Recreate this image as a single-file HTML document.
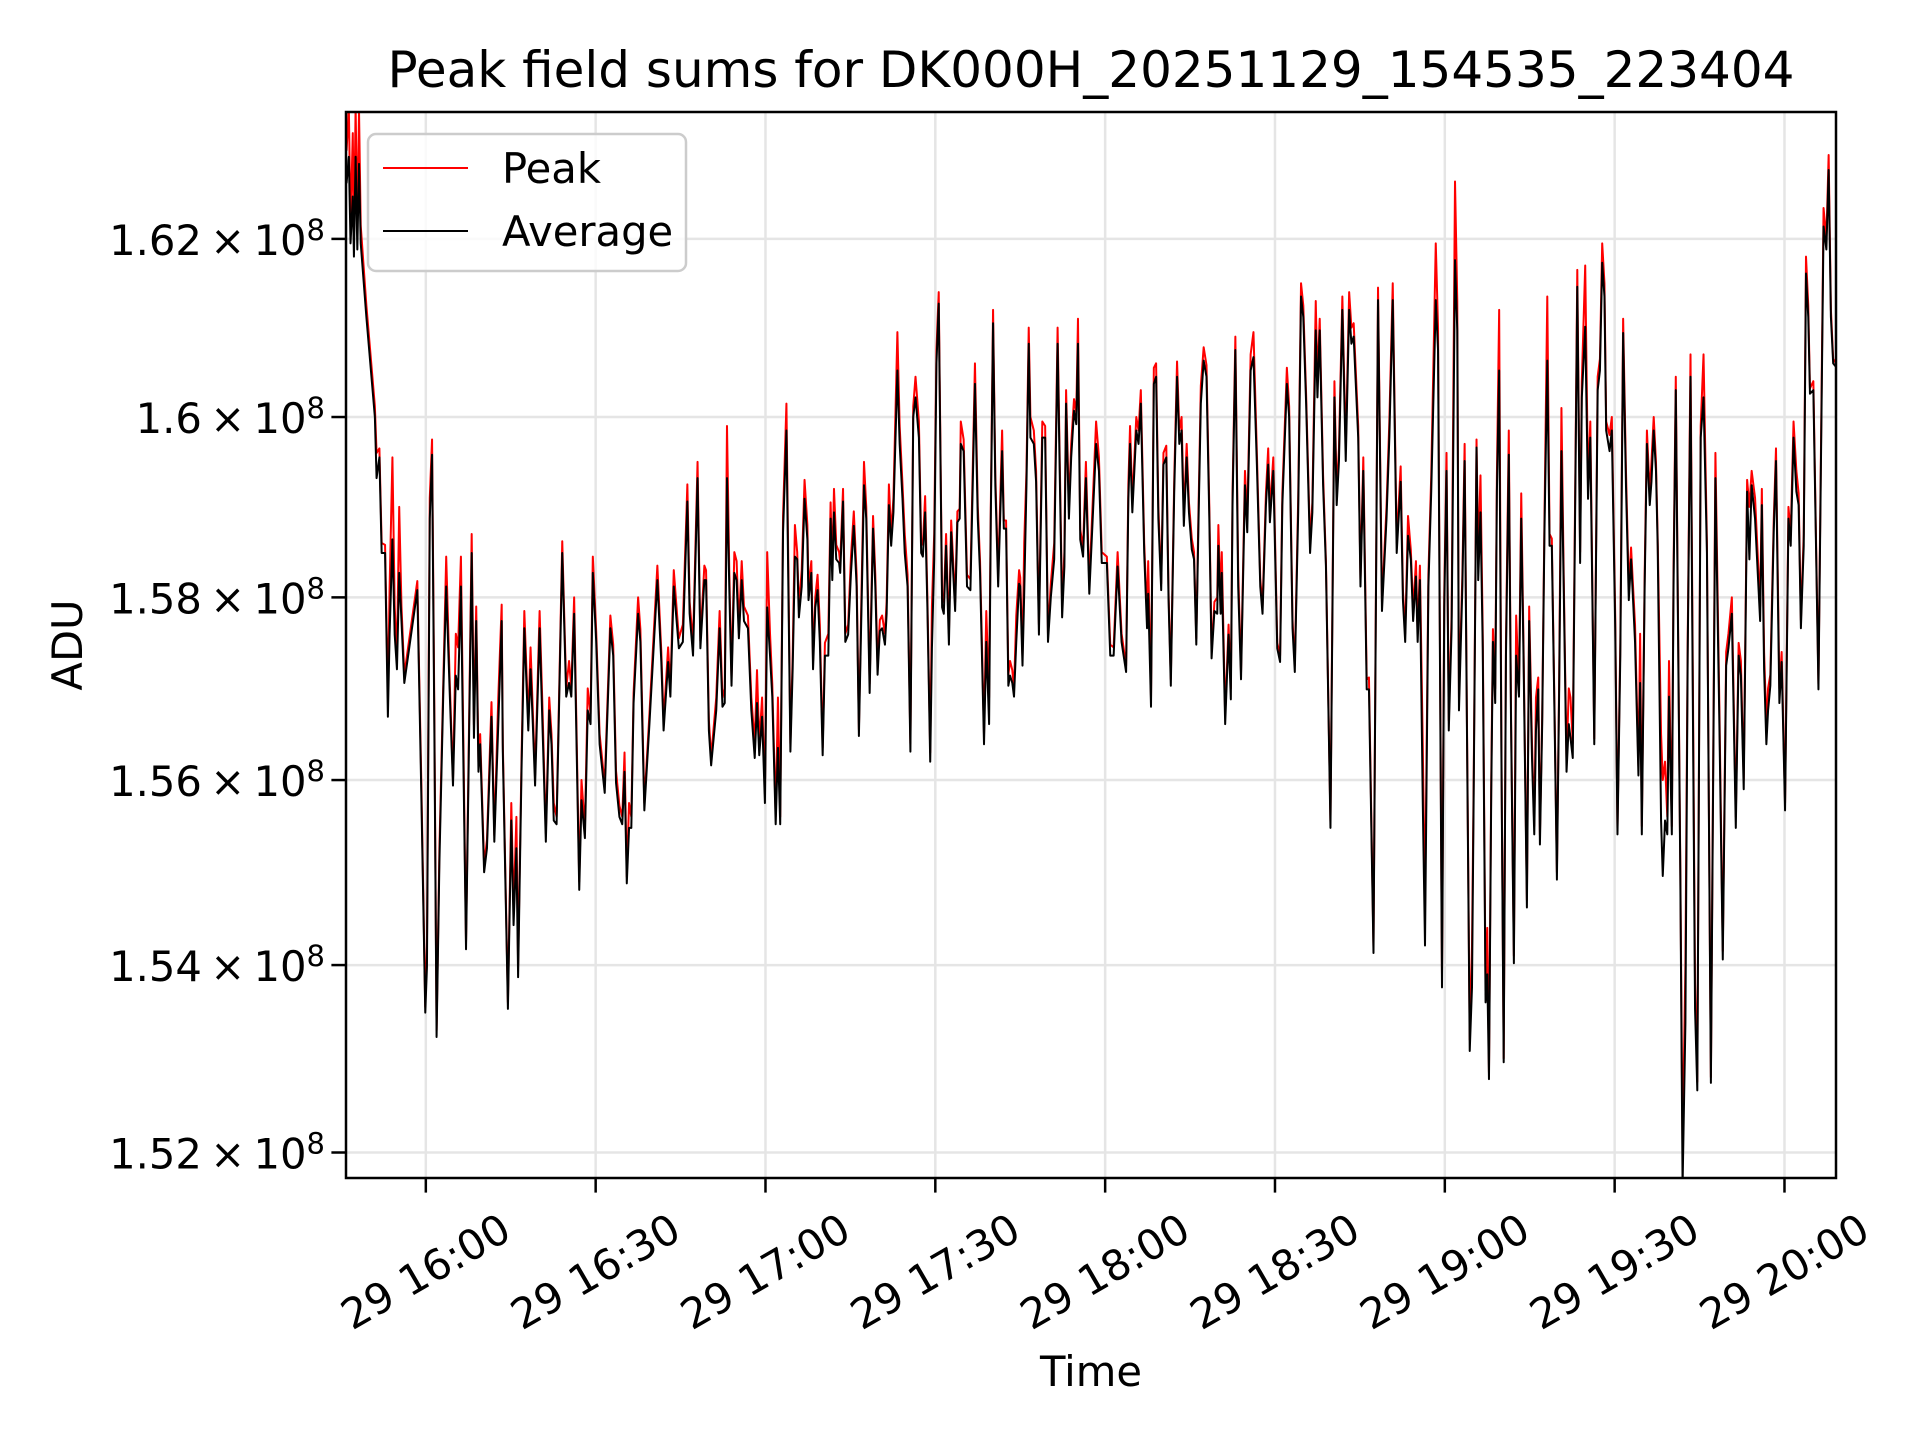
<!DOCTYPE html>
<html>
<head>
<meta charset="utf-8">
<style>
  html,body{margin:0;padding:0;background:#fff;}
  svg{display:block;}
  text{font-family:"DejaVu Sans","Liberation Sans",sans-serif;fill:#000;}
</style>
</head>
<body>
<svg id="chart" width="1920" height="1440" viewBox="0 0 1920 1440" xmlns="http://www.w3.org/2000/svg">
  <rect x="0" y="0" width="1920" height="1440" fill="#fff"/>
  <defs>
    <clipPath id="plotclip"><rect x="346" y="112" width="1490" height="1066"/></clipPath>
  </defs>
  <g id="grid"></g>
  <g id="series" clip-path="url(#plotclip)"></g>
  <rect x="346" y="112" width="1490" height="1066" fill="none" stroke="#000" stroke-width="2.5"/>
  <g id="axes"></g>
  <text x="1091" y="87" font-size="50" text-anchor="middle">Peak field sums for DK000H_20251129_154535_223404</text>
  <text x="1091" y="1386" font-size="41.7" text-anchor="middle">Time</text>
  <text x="82" y="645" font-size="41.7" text-anchor="middle" transform="rotate(-90 82 645)">ADU</text>
  <g>
    <rect x="368" y="134" width="318" height="137" rx="8" fill="#fff" fill-opacity="0.8" stroke="#cccccc" stroke-width="2.5"/>
    <line x1="383" y1="168" x2="468" y2="168" stroke="#ff0000" stroke-width="2"/>
    <text x="502" y="183" font-size="41.7">Peak</text>
    <line x1="383" y1="231" x2="468" y2="231" stroke="#000" stroke-width="2"/>
    <text x="502" y="246" font-size="41.7">Average</text>
  </g>
</svg>
<script>
// minutes after 29 16:00
const times = [
-14.0,-13.6,-13.3,-12.9,-12.7,-12.4,-12.1,-11.8,-11.5,-10.5,-9.0,-8.7,-8.2,-7.8,-7.2,-6.7,-6.4,-5.9,-5.5,-5.1,-4.7,-4.3,-3.8,-1.5,-0.8,-0.1,0.2,0.7,1.1,1.5,1.9,2.4,3.1,3.6,4.2,4.8,5.3,5.7,6.2,7.1,7.5,8.1,8.5,8.9,9.3,9.6,10.3,10.8,11.6,12.1,12.8,13.4,13.6,14.5,15.1,15.5,16.0,16.3,16.9,17.4,18.1,18.5,18.9,19.3,20.1,20.6,21.2,21.8,22.2,22.6,23.1,24.1,24.8,25.3,25.7,26.2,27.1,27.5,28.1,28.6,29.1,29.5,30.1,30.7,31.6,32.6,33.1,33.6,34.2,34.7,35.1,35.5,35.9,36.3,36.7,37.5,37.9,38.6,39.5,40.9,41.6,42.0,42.8,43.2,43.8,44.7,45.4,46.2,46.6,47.2,48.0,48.5,49.2,49.5,50.0,50.4,51.3,51.9,
52.4,52.8,53.2,53.6,54.0,54.5,54.9,55.3,55.8,56.2,56.9,57.5,58.1,58.5,58.9,59.4,59.9,60.3,60.8,61.2,61.8,62.2,62.6,63.1,63.7,64.4,64.8,65.2,65.6,65.9,66.4,66.9,67.4,67.6,68.1,68.4,68.8,69.2,69.6,70.1,70.5,71.1,71.5,71.8,72.1,72.5,73.0,73.2,73.7,74.1,74.6,75.1,75.6,76.1,76.5,77.4,77.8,78.4,79.0,79.4,79.8,80.2,80.6,81.1,81.4,81.8,82.2,82.6,83.3,83.7,84.2,84.6,85.1,85.6,86.1,86.5,87.1,87.5,87.8,88.2,88.6,89.1,89.4,89.8,90.2,90.6,91.2,91.5,91.9,92.4,92.8,93.5,93.9,94.3,94.5,95.0,95.6,96.2,97.0,97.5,97.9,98.6,99.0,99.5,99.8,100.2,100.6,101.1,101.8,102.1,102.5,102.9,103.2,103.6,103.9,104.3,104.8,105.0,105.4,105.7,106.1,106.5,106.8,107.4,107.8,108.3,108.9,109.4,109.9,110.4,111.0,111.6,112.4,112.8,113.1,113.6,114.0,114.5,114.9,115.2,115.6,116.1,116.6,117.2,
118.4,118.9,119.4,120.3,120.9,121.5,122.2,122.9,123.7,124.1,124.4,124.8,125.5,125.9,126.3,126.9,127.4,127.6,128.1,128.6,129.0,129.4,129.9,130.3,130.8,131.2,131.6,132.2,132.7,133.1,133.5,133.9,134.4,134.8,135.3,135.7,136.1,136.5,136.9,137.4,137.9,138.4,138.8,139.3,139.8,140.0,140.4,140.6,141.2,141.8,142.2,142.5,143.0,143.5,144.0,144.7,145.1,145.7,146.2,146.8,147.4,147.8,148.4,148.8,149.1,149.7,150.4,150.9,151.3,152.1,152.5,153.1,153.5,154.1,154.6,155.0,155.5,156.2,156.6,157.2,157.5,157.9,158.5,159.0,159.8,160.5,160.9,161.3,161.9,162.5,163.1,163.5,163.9,164.7,165.1,165.6,166.2,166.6,167.4,168.2,168.9,169.7,170.2,170.8,171.5,172.2,172.6,173.0,173.5,174.0,174.4,174.9,175.2,175.6,176.1,176.5,177.1,177.6,178.4,178.8,179.5,179.9,180.3,180.7,181.2,181.8,182.2,182.5,
183.1,183.5,183.9,184.4,184.8,185.1,185.6,185.9,186.3,186.7,187.2,187.5,187.8,188.2,188.5,188.9,189.2,189.6,190.0,190.4,190.8,191.3,191.7,192.2,192.6,193.1,193.5,193.9,194.5,194.9,195.4,195.8,196.1,196.5,196.8,197.2,197.6,198.1,198.5,198.9,199.4,199.8,200.2,200.6,201.0,201.5,201.9,202.2,202.6,203.4,203.9,204.2,204.8,205.3,205.7,206.4,207.0,207.4,207.8,208.2,208.5,209.1,209.5,210.1,210.5,211.0,211.5,212.0,212.5,212.9,213.2,213.6,214.2,214.5,214.8,215.3,215.7,216.2,216.5,216.9,217.3,217.6,218.2,218.5,218.9,219.3,219.6,220.1,220.4,220.8,221.6,222.0,222.5,222.9,223.4,224.2,224.6,225.2,225.7,226.3,227.0,227.8,228.5,229.1,229.7,230.1,230.7,231.4,231.9,232.3,232.8,233.4,233.8,234.2,234.8,235.7,236.0,236.4,236.8,237.1,237.5,238.1,238.5,239.1,239.5,240.1,240.7,241.1,241.6,242.1,242.5,242.9,243.4,243.8,244.2,244.5,245.1,246.0,246.9,247.4,247.8,248.2,248.6,249.1
];
// Average ADU, units of 1e8
const averageValues = [
1.6263,1.6293,1.6195,1.6248,1.6180,1.6293,1.6188,1.6285,1.6195,1.6112,1.6000,1.5932,1.5955,1.5849,1.5849,1.5669,1.5759,1.5864,1.5759,1.5721,1.5827,1.5774,1.5706,1.5808,1.5586,1.5349,1.5398,1.5887,1.5958,1.5661,1.5323,1.5511,1.5699,1.5812,1.5699,1.5594,1.5714,1.5699,1.5812,1.5417,1.5586,1.5849,1.5646,1.5774,1.5609,1.5639,1.5500,1.5526,1.5669,1.5533,1.5661,1.5774,1.5631,1.5353,1.5556,1.5443,1.5526,1.5387,1.5609,1.5766,1.5654,1.5721,1.5661,1.5594,1.5766,1.5661,1.5533,1.5676,1.5639,1.5556,1.5552,1.5849,1.5691,1.5706,1.5691,1.5782,1.5481,1.5578,1.5537,1.5676,1.5661,1.5827,1.5751,1.5639,1.5586,1.5766,1.5736,1.5597,1.5560,1.5552,1.5609,1.5488,1.5548,1.5548,1.5684,1.5782,1.5751,1.5567,1.5661,1.5819,1.5729,1.5654,1.5729,1.5691,1.5812,1.5744,1.5751,1.5906,1.5782,1.5736,1.5932,1.5744,1.5819,1.5819,1.5654,1.5616,1.5676,1.5766,
1.5680,1.5684,1.5932,1.5812,1.5703,1.5827,1.5819,1.5755,1.5819,1.5774,1.5766,1.5676,1.5624,1.5684,1.5627,1.5669,1.5575,1.5789,1.5736,1.5691,1.5552,1.5635,1.5552,1.5872,1.5985,1.5631,1.5721,1.5845,1.5842,1.5778,1.5812,1.5909,1.5864,1.5797,1.5827,1.5721,1.5789,1.5808,1.5751,1.5627,1.5736,1.5736,1.5887,1.5819,1.5894,1.5842,1.5838,1.5827,1.5906,1.5751,1.5759,1.5827,1.5879,1.5812,1.5648,1.5924,1.5887,1.5695,1.5876,1.5812,1.5715,1.5763,1.5766,1.5748,1.5782,1.5902,1.5857,1.5894,1.6052,1.5970,1.5909,1.5849,1.5812,1.5631,1.6000,1.6022,1.5977,1.5849,1.5845,1.5894,1.5789,1.5620,1.5744,1.5842,1.6060,1.6127,1.5789,1.5782,1.5857,1.5748,1.5872,1.5785,1.5883,1.5887,1.5970,1.5962,1.5812,1.5808,1.6037,1.5887,1.5827,1.5639,1.5751,1.5661,1.5887,1.6105,1.5924,1.5812,1.5962,1.5876,1.5876,1.5703,1.5714,1.5706,1.5691,1.5751,1.5815,1.5812,1.5725,1.5804,1.5924,1.6082,1.5977,1.5970,1.5928,1.5759,1.5977,1.5977,1.5751,1.5800,1.5842,1.6082,1.5778,1.5834,1.6015,1.5887,1.5955,1.6007,1.5992,1.6082,1.5864,1.5845,1.5932,1.5804,
1.5970,1.5940,1.5838,1.5838,1.5736,1.5736,1.5834,1.5751,1.5718,1.5909,1.5970,1.5894,1.5985,1.5970,1.6015,1.5849,1.5766,1.5804,1.5680,1.6037,1.6045,1.5887,1.5808,1.5947,1.5955,1.5797,1.5703,1.5917,1.6045,1.5970,1.5985,1.5879,1.5955,1.5894,1.5853,1.5842,1.5748,1.5887,1.6015,1.6063,1.6045,1.5887,1.5733,1.5785,1.5782,1.5857,1.5782,1.5827,1.5661,1.5759,1.5688,1.5902,1.6075,1.5812,1.5710,1.5924,1.5872,1.6052,1.6067,1.5947,1.5812,1.5782,1.5902,1.5947,1.5883,1.5940,1.5744,1.5729,1.5902,1.6037,1.6000,1.5766,1.5718,1.5894,1.6135,1.6112,1.6015,1.5849,1.5894,1.6097,1.6022,1.6097,1.5924,1.5834,1.5548,1.6022,1.5902,1.5951,1.6120,1.5951,1.6120,1.6082,1.6090,1.5977,1.5812,1.5940,1.5699,1.5699,1.5413,1.6131,1.5785,1.5887,1.5977,1.6131,1.5849,1.5928,1.5797,1.5751,1.5868,1.5842,1.5774,1.5823,1.5751,1.5819,1.5578,1.5421,1.5812,1.5917,1.6131,1.6075,1.5376,1.5789,1.5940,1.5654,1.5766,1.6176,1.6097,1.5676,
1.5812,1.5951,1.5661,1.5308,1.5376,1.5586,1.5966,1.5819,1.5894,1.5744,1.5360,1.5390,1.5278,1.5586,1.5751,1.5684,1.5917,1.6052,1.5624,1.5296,1.5736,1.5958,1.5661,1.5402,1.5736,1.5691,1.5887,1.5736,1.5462,1.5774,1.5624,1.5541,1.5654,1.5699,1.5530,1.5661,1.5872,1.6063,1.5857,1.5857,1.5661,1.5492,1.5699,1.5962,1.5812,1.5609,1.5661,1.5646,1.5624,1.6146,1.5838,1.6022,1.6101,1.5909,1.5977,1.5639,1.6030,1.6052,1.6173,1.6135,1.5985,1.5962,1.5985,1.5766,1.5541,1.5736,1.6094,1.5924,1.5797,1.5842,1.5804,1.5751,1.5605,1.5706,1.5541,1.5812,1.5970,1.5902,1.5928,1.5985,1.5940,1.5857,1.5556,1.5496,1.5556,1.5541,1.5691,1.5541,1.5812,1.6030,1.5496,1.5165,1.5338,1.5736,1.6045,1.5353,1.5266,1.5977,1.6022,1.5849,1.5274,1.5932,1.5661,1.5406,1.5725,1.5744,1.5782,1.5548,1.5736,1.5714,1.5590,1.5917,1.5842,1.5924,1.5887,1.5774,1.5902,1.5721,1.5639,1.5676,1.5703,1.5872,1.5951,1.5684,1.5729,1.5567,1.5887,1.5857,1.5977,1.5917,1.5902,1.5766,1.5857,1.6161,1.6112,1.6026,1.6030,1.5699,1.6214,1.6188,1.6278,1.6112,1.6060,1.6056
];
// Peak ADU, units of 1e8
const peakValues = [
1.6300,1.6350,1.6215,1.6320,1.6200,1.6350,1.6210,1.6345,1.6215,1.6125,1.6012,1.5960,1.5965,1.5860,1.5858,1.5690,1.5810,1.5955,1.5790,1.5735,1.5900,1.5790,1.5715,1.5818,1.5600,1.5355,1.5420,1.5910,1.5975,1.5680,1.5330,1.5525,1.5710,1.5845,1.5712,1.5600,1.5760,1.5745,1.5845,1.5425,1.5600,1.5870,1.5660,1.5790,1.5620,1.5650,1.5508,1.5535,1.5685,1.5540,1.5690,1.5792,1.5640,1.5360,1.5575,1.5460,1.5560,1.5400,1.5620,1.5785,1.5665,1.5745,1.5675,1.5605,1.5785,1.5680,1.5542,1.5690,1.5650,1.5575,1.5560,1.5862,1.5700,1.5730,1.5700,1.5800,1.5490,1.5600,1.5548,1.5700,1.5672,1.5845,1.5762,1.5650,1.5595,1.5780,1.5748,1.5610,1.5572,1.5560,1.5630,1.5495,1.5575,1.5560,1.5695,1.5800,1.5765,1.5575,1.5672,1.5835,1.5740,1.5665,1.5745,1.5700,1.5830,1.5755,1.5770,1.5925,1.5795,1.5750,1.5950,1.5752,1.5835,1.5830,1.5665,1.5625,1.5690,1.5785,
1.5690,1.5700,1.5990,1.5830,1.5712,1.5850,1.5840,1.5768,1.5840,1.5790,1.5780,1.5690,1.5640,1.5720,1.5640,1.5690,1.5585,1.5850,1.5760,1.5705,1.5560,1.5690,1.5560,1.5890,1.6015,1.5640,1.5735,1.5880,1.5850,1.5790,1.5830,1.5930,1.5880,1.5810,1.5840,1.5730,1.5800,1.5825,1.5770,1.5635,1.5750,1.5760,1.5905,1.5830,1.5920,1.5858,1.5850,1.5838,1.5920,1.5760,1.5770,1.5845,1.5895,1.5825,1.5655,1.5950,1.5900,1.5705,1.5890,1.5825,1.5725,1.5775,1.5780,1.5760,1.5795,1.5925,1.5870,1.5910,1.6095,1.5990,1.5925,1.5870,1.5825,1.5640,1.6012,1.6045,1.5995,1.5860,1.5858,1.5912,1.5800,1.5630,1.5790,1.5870,1.6075,1.6140,1.5800,1.5795,1.5870,1.5760,1.5885,1.5795,1.5895,1.5898,1.5995,1.5975,1.5825,1.5820,1.6060,1.5900,1.5840,1.5650,1.5785,1.5690,1.5900,1.6120,1.5935,1.5825,1.5985,1.5885,1.5885,1.5715,1.5730,1.5720,1.5700,1.5780,1.5830,1.5822,1.5735,1.5860,1.5940,1.6100,1.6000,1.5985,1.5940,1.5770,1.5995,1.5990,1.5760,1.5815,1.5860,1.6100,1.5790,1.5850,1.6030,1.5900,1.5970,1.6020,1.6005,1.6110,1.5875,1.5855,1.5950,1.5815,
1.5995,1.5955,1.5850,1.5845,1.5748,1.5745,1.5850,1.5760,1.5725,1.5925,1.5990,1.5905,1.6000,1.5985,1.6030,1.5860,1.5780,1.5840,1.5690,1.6055,1.6060,1.5900,1.5815,1.5960,1.5968,1.5805,1.5710,1.5930,1.6062,1.5985,1.6000,1.5890,1.5970,1.5905,1.5865,1.5850,1.5755,1.5900,1.6035,1.6078,1.6058,1.5900,1.5740,1.5795,1.5800,1.5880,1.5795,1.5850,1.5670,1.5770,1.5700,1.5915,1.6090,1.5830,1.5718,1.5940,1.5885,1.6070,1.6095,1.5960,1.5820,1.5790,1.5915,1.5965,1.5895,1.5955,1.5750,1.5736,1.5915,1.6055,1.6012,1.5775,1.5725,1.5910,1.6150,1.6125,1.6025,1.5860,1.5905,1.6130,1.6040,1.6110,1.5935,1.5840,1.5555,1.6040,1.5915,1.5965,1.6135,1.5965,1.6140,1.6100,1.6105,1.5990,1.5820,1.5955,1.5710,1.5712,1.5420,1.6145,1.5795,1.5900,1.5995,1.6150,1.5860,1.5945,1.5808,1.5760,1.5890,1.5852,1.5785,1.5840,1.5760,1.5835,1.5640,1.5460,1.5825,1.5935,1.6195,1.6100,1.5390,1.5805,1.5960,1.5665,1.5780,1.6265,1.6130,1.5690,
1.5825,1.5970,1.5670,1.5320,1.5420,1.5600,1.5975,1.5840,1.5935,1.5760,1.5375,1.5440,1.5285,1.5600,1.5765,1.5700,1.5935,1.6120,1.5635,1.5300,1.5750,1.5985,1.5670,1.5410,1.5780,1.5700,1.5915,1.5748,1.5470,1.5790,1.5640,1.5550,1.5690,1.5712,1.5540,1.5670,1.5885,1.6135,1.5870,1.5865,1.5670,1.5500,1.5710,1.6010,1.5825,1.5620,1.5700,1.5690,1.5640,1.6165,1.5850,1.6040,1.6170,1.5925,1.5995,1.5645,1.6045,1.6065,1.6195,1.6150,1.5995,1.5980,1.6000,1.5780,1.5548,1.5750,1.6110,1.5940,1.5810,1.5855,1.5818,1.5770,1.5615,1.5760,1.5550,1.5825,1.5985,1.5915,1.5950,1.6000,1.5950,1.5865,1.5650,1.5600,1.5620,1.5560,1.5730,1.5550,1.5830,1.6045,1.5505,1.5200,1.5400,1.5750,1.6070,1.5380,1.5275,1.5990,1.6070,1.5860,1.5280,1.5960,1.5680,1.5415,1.5740,1.5760,1.5800,1.5560,1.5750,1.5730,1.5600,1.5930,1.5900,1.5940,1.5910,1.5790,1.5920,1.5740,1.5660,1.5700,1.5715,1.5885,1.5965,1.5700,1.5740,1.5575,1.5900,1.5870,1.5995,1.5940,1.5915,1.5775,1.5870,1.6180,1.6125,1.6032,1.6040,1.5705,1.6235,1.6200,1.6295,1.6120,1.6065,1.6060
];
const xTickMinutes = [0,30,60,90,120,150,180,210,240];
const xTickLabels = ["29 16:00","29 16:30","29 17:00","29 17:30","29 18:00","29 18:30","29 19:00","29 19:30","29 20:00"];
const yTickValues = [1.52,1.54,1.56,1.58,1.60,1.62];
const yTickLabels = ["1.52","1.54","1.56","1.58","1.6","1.62"];

const NS = "http://www.w3.org/2000/svg";
const PL = 346, PR = 1836, PT = 112, PB = 1178;
const X0 = -14.1, X1 = 249.1;
const Y0 = 1.5173, Y1 = 1.6344;
function xScale(t){ return PL + (t - X0) / (X1 - X0) * (PR - PL); }
function yScale(v){ return PB - (Math.log10(v) - Math.log10(Y0)) / (Math.log10(Y1) - Math.log10(Y0)) * (PB - PT); }
function mk(tag, attrs){ const e = document.createElementNS(NS, tag); for (const k in attrs) e.setAttribute(k, attrs[k]); return e; }

const grid = document.getElementById('grid');
const axes = document.getElementById('axes');
const series = document.getElementById('series');

xTickMinutes.forEach((m, i) => {
  const x = xScale(m);
  const g = mk('line', {x1:x, y1:PT, x2:x, y2:PB, stroke:'#e5e5e5', 'stroke-width':2.5});
  
  
  grid.appendChild(g);
  const tk = mk('line', {x1:x, y1:PB, x2:x, y2:PB + 14.6, stroke:'#000', 'stroke-width':2.5});
  
  
  axes.appendChild(tk);
  const cy = 1272;
  const tx = mk('text', {x:x, y:cy + 14, 'font-size':41.7, 'text-anchor':'middle', transform:'rotate(-30 ' + x + ' ' + cy + ')'});
  
  
  tx.textContent = xTickLabels[i];
  axes.appendChild(tx);
});

yTickValues.forEach((v, i) => {
  const y = yScale(v);
  const g = mk('line', {x1:PL, y1:y, x2:PR, y2:y, stroke:'#e5e5e5', 'stroke-width':2.5});
  
  
  grid.appendChild(g);
  const tk = mk('line', {x1:PL - 14.6, y1:y, x2:PL, y2:y, stroke:'#000', 'stroke-width':2.5});
  
  
  axes.appendChild(tk);
  const tx = mk('text', {x:325, y:y + 16, 'font-size':41.7, 'text-anchor':'end'});
  
  
  tx.appendChild(document.createTextNode(yTickLabels[i] + '\u2009\u00d7\u200910'));
  const sup = mk('tspan', {dy:-15, 'font-size':29});
  sup.textContent = '8';
  tx.appendChild(sup);
  axes.appendChild(tx);
});

function linePath(vals){
  const n = Math.min(times.length, vals.length);
  let d = '';
  for (let i = 0; i < n; i++) {
    d += (i ? 'L' : 'M') + xScale(times[i]).toFixed(2) + ',' + yScale(vals[i]).toFixed(2);
  }
  return d;
}
const peakLine = mk('path', {d:linePath(peakValues), fill:'none', stroke:'#ff0000', 'stroke-width':2, 'stroke-linejoin':'round'});


series.appendChild(peakLine);
const avgLine = mk('path', {d:linePath(averageValues), fill:'none', stroke:'#000000', 'stroke-width':2, 'stroke-linejoin':'round'});


series.appendChild(avgLine);
</script>
</body>
</html>
